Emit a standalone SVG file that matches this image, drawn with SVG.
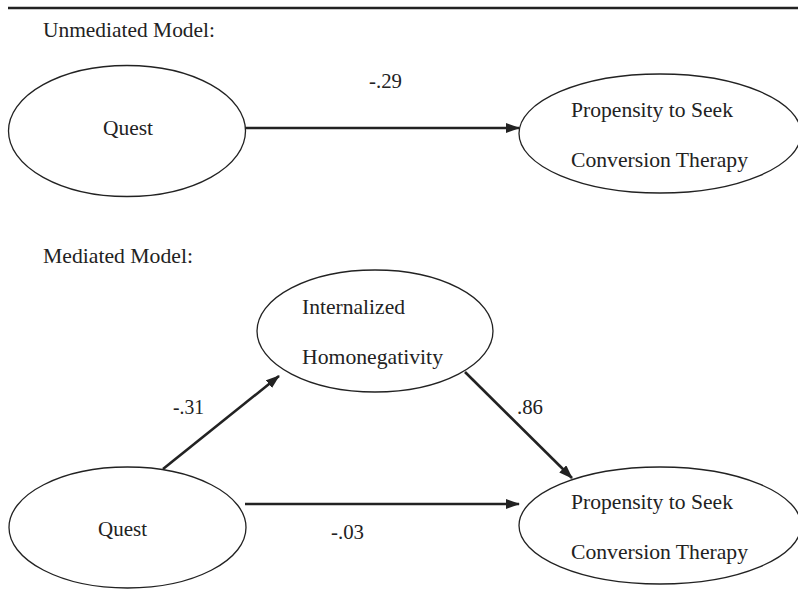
<svg xmlns="http://www.w3.org/2000/svg" width="798" height="602" viewBox="0 0 798 602">
<style>
text{font-family:"Liberation Serif","Times New Roman",serif;font-size:21px;fill:#222;}
.node ellipse{fill:#fff;stroke:#222;stroke-width:1.3;}
.edge{stroke:#222;stroke-width:2.6;fill:none;marker-end:url(#ah);}
</style>
<defs>
<marker id="ah" viewBox="0 0 14 10" refX="13" refY="5" markerWidth="14" markerHeight="10" markerUnits="userSpaceOnUse" orient="auto">
<path d="M0,0 L14,5 L0,10 Z" fill="#222"/>
</marker>
</defs>
<rect width="798" height="602" fill="#fff"/>
<line x1="8" y1="8" x2="798" y2="8" stroke="#222" stroke-width="2.5"/>
<text x="43" y="37" textLength="172" lengthAdjust="spacingAndGlyphs">Unmediated Model:</text>
<text x="43" y="263" textLength="150" lengthAdjust="spacingAndGlyphs">Mediated Model:</text>
<g id="connectors">
<line class="edge" x1="245" y1="128" x2="519" y2="128"/>
<line class="edge" x1="163" y1="469" x2="279" y2="376"/>
<line class="edge" x1="465" y1="372" x2="572" y2="478"/>
<line class="edge" x1="245" y1="504" x2="519" y2="504"/>
<text x="369" y="88" textLength="33" lengthAdjust="spacingAndGlyphs">-.29</text>
<text x="173" y="414" textLength="31" lengthAdjust="spacingAndGlyphs">-.31</text>
<text x="517" y="414" textLength="26" lengthAdjust="spacingAndGlyphs">.86</text>
<text x="331" y="539" textLength="33" lengthAdjust="spacingAndGlyphs">-.03</text>
</g>
<g id="quest1" class="node">
<ellipse cx="127" cy="131" rx="118.5" ry="65.5"/>
<text x="103" y="135" textLength="50" lengthAdjust="spacingAndGlyphs">Quest</text>
</g>
<g id="propensity1" class="node">
<ellipse cx="660" cy="133.5" rx="141" ry="59.5"/>
<text x="571" y="117" textLength="162" lengthAdjust="spacingAndGlyphs">Propensity to Seek</text>
<text x="571" y="167" textLength="177" lengthAdjust="spacingAndGlyphs">Conversion Therapy</text>
</g>
<g id="homonegativity" class="node">
<ellipse cx="375" cy="331" rx="118" ry="61"/>
<text x="302" y="314" textLength="103" lengthAdjust="spacingAndGlyphs">Internalized</text>
<text x="302" y="364" textLength="141" lengthAdjust="spacingAndGlyphs">Homonegativity</text>
</g>
<g id="quest2" class="node">
<ellipse cx="127.5" cy="527.5" rx="118.5" ry="60.5"/>
<text x="98" y="536" textLength="49" lengthAdjust="spacingAndGlyphs">Quest</text>
</g>
<g id="propensity2" class="node">
<ellipse cx="660" cy="525.5" rx="141" ry="58.5"/>
<text x="571" y="509" textLength="162" lengthAdjust="spacingAndGlyphs">Propensity to Seek</text>
<text x="571" y="559" textLength="177" lengthAdjust="spacingAndGlyphs">Conversion Therapy</text>
</g>
</svg>
